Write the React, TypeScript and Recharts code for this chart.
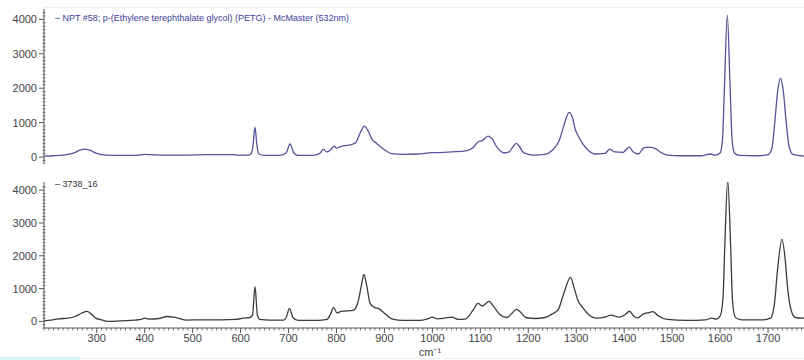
import { LineChart, Line, XAxis, YAxis } from 'recharts';

// PETG reference spectrum (top panel)
const refWavenumber = [
  190, 210, 230, 250, 265, 275, 285, 300, 320, 350, 380, 400, 410, 430, 480, 530, 580, 600, 615,
  622, 626, 630, 634, 638, 650, 680, 695, 703, 711, 720, 750, 765, 773, 780, 787, 795, 800, 810,
  830, 840, 850, 858, 866, 875, 882, 892, 905, 915, 940, 970, 1000, 1015, 1040, 1070, 1085, 1095,
  1104, 1116, 1125, 1135, 1150, 1160, 1168, 1175, 1182, 1190, 1210, 1235, 1250, 1265, 1275, 1285,
  1292, 1298, 1304, 1312, 1325, 1340, 1360, 1370, 1380, 1398, 1404, 1411, 1418, 1430, 1440, 1450,
  1463, 1475, 1490, 1520, 1560, 1580, 1590, 1600, 1605, 1609, 1615, 1621, 1625, 1630, 1640, 1680,
  1700, 1708, 1714, 1720, 1726, 1732, 1738, 1744, 1752, 1775,
];
const refIntensity = [
  30, 40, 60, 110, 200, 230, 200, 110, 60, 50, 50, 80, 70, 60, 60, 70, 70, 60, 60,
  100, 350, 870, 350, 90, 50, 50, 120, 380, 120, 50, 50, 110, 230, 150, 200, 320, 260, 310,
  360, 420, 720, 900, 760, 500, 420, 300, 170, 100, 80, 90, 130, 130, 150, 180, 280, 440,
  480, 610, 520, 280, 120, 150, 300, 400, 300, 130, 60, 80, 200, 500, 950, 1300,
  1150, 800, 620, 420, 200, 90, 110, 230, 150, 140, 220, 290, 160, 90, 260, 290,
  260, 150, 60, 40, 40, 90, 60, 120, 500, 2000, 4120, 2000, 500, 120, 50, 40,
  70, 250, 1000, 1900, 2290, 1900, 1000, 300, 80, 30,
];

// Sample 3738_16 (bottom panel)
const sampleWavenumber = [
  190, 205, 220, 240, 255, 268, 280, 288, 298, 312, 325, 350, 380, 392, 400, 410, 430, 446, 460,
  475, 485, 520, 560, 590, 605, 620, 625, 630, 635, 640, 660, 690, 695, 702, 709, 720, 760, 780,
  787, 794, 801, 810, 835, 845, 852, 857, 863, 870, 880, 888, 900, 915, 940, 975, 990, 1000, 1010,
  1025, 1040, 1055, 1070, 1085, 1095, 1104, 1118, 1128, 1140, 1155, 1166, 1175, 1184, 1195, 1215,
  1235, 1250, 1262, 1275, 1288, 1296, 1304, 1312, 1325, 1342, 1360, 1372, 1390, 1402, 1411, 1420,
  1428, 1440, 1452, 1460, 1470, 1490, 1530, 1570, 1582, 1592, 1600, 1606, 1610, 1616, 1622, 1626,
  1632, 1645, 1690, 1705, 1713, 1720, 1729, 1735, 1741, 1748, 1757, 1775,
];
const sampleIntensity = [
  20, 40, 80, 100, 150, 250, 305, 230, 100, 40, 0, 20, 40, 60, 100, 70, 90, 150, 130,
  80, 40, 50, 50, 60, 100, 120, 200, 1070, 200, 60, 40, 40, 120, 400, 120, 30, 30, 60,
  200, 430, 260, 310, 340, 600, 1100, 1430, 1100, 550, 420, 390, 250, 80, 30, 30, 80, 130, 80,
  100, 130, 60, 80, 350, 550, 470, 610, 450, 220, 120, 250, 370, 280, 120, 90,
  120, 230, 350, 900, 1340, 1000, 620, 450, 220, 100, 130, 190, 130, 210, 310, 160,
  110, 230, 270, 300, 180, 60, 30, 50, 100, 70, 160, 700, 2400, 4300, 2300, 600,
  120, 50, 50, 100, 500, 1600, 2500, 2000, 1000, 350, 120, 100,
];

const xMajor = [300, 400, 500, 600, 700, 800, 900, 1000, 1100, 1200, 1300, 1400, 1500, 1600, 1700];
const xTicks = Array.from({ length: 159 }, (_, i) => 190 + i * 10);
const yMajor = [0, 1000, 2000, 3000, 4000];
const yTicksTop = Array.from({ length: 45 }, (_, i) => -200 + i * 100);
const yTicksBottom = Array.from({ length: 44 }, (_, i) => -200 + i * 100);

const refData = refWavenumber.map((wn, i) => ({ wn, v: refIntensity[i] }));
const sampleData = sampleWavenumber.map((wn, i) => ({ wn, v: sampleIntensity[i] }));

const FONT = '"Liberation Sans", Arial, sans-serif';
const AXIS = '#555';
const TEXT = '#444';
const REF_LINE = '#54549a';
const SAMPLE_LINE = '#3c3c3c';

function YTick(props: any) {
  const { x, y, payload } = props;
  const major = yMajor.includes(payload.value);
  if (major) {
    return (
      <g>
        <line x1={x - 5} x2={x} y1={y} y2={y} stroke={AXIS} />
        <text x={x - 7} y={y} dy={4} textAnchor="end" fontSize={11} fill={TEXT} fontFamily={FONT}>
          {payload.value}
        </text>
      </g>
    );
  }
  return <line x1={x - 1.5} x2={x + 1.5} y1={y} y2={y} stroke={AXIS} strokeWidth={0.8} />;
}

function XTick(props: any) {
  const { x, y, payload } = props;
  const major = xMajor.includes(payload.value);
  if (major) {
    return (
      <g>
        <line x1={x} x2={x} y1={y} y2={y + 5} stroke={AXIS} />
        <text x={x} y={y + 14} textAnchor="middle" fontSize={11} fill={TEXT} fontFamily={FONT}>
          {payload.value}
        </text>
      </g>
    );
  }
  return <line x1={x} x2={x} y1={y} y2={y + 2.5} stroke={AXIS} strokeWidth={0.8} />;
}

export default function App() {
  return (
    <div
      style={{
        position: 'absolute',
        left: 0,
        top: 0,
        width: 804,
        height: 360,
        background: '#fff',
        overflow: 'hidden',
        fontFamily: FONT,
      }}
    >
      <div style={{ position: 'absolute', left: 44, top: 7, width: 760, height: 1, background: '#ececec' }} />

      <div style={{ position: 'absolute', left: 0, top: 0 }}>
        <LineChart width={804} height={164} data={refData} margin={{ top: 9, right: 0, left: 0, bottom: 0 }}>
          <XAxis dataKey="wn" type="number" domain={[190, 1775]} hide allowDataOverflow />
          <YAxis
            width={44}
            domain={[-200, 4300]}
            ticks={yTicksTop}
            interval={0}
            tickSize={0}
            tickMargin={0}
            tickLine={false}
            tick={<YTick />}
            axisLine={{ stroke: AXIS }}
            allowDataOverflow
          />
          <Line
            type="monotone"
            dataKey="v"
            stroke={REF_LINE}
            strokeWidth={1.3}
            dot={false}
            isAnimationActive={false}
          />
        </LineChart>
      </div>

      <div style={{ position: 'absolute', left: 0, top: 170 }}>
        <LineChart width={804} height={190} data={sampleData} margin={{ top: 12, right: 0, left: 0, bottom: 0 }}>
          <XAxis
            dataKey="wn"
            type="number"
            domain={[190, 1775]}
            ticks={xTicks}
            interval={0}
            height={32}
            tickSize={0}
            tickMargin={0}
            tickLine={false}
            tick={<XTick />}
            axisLine={{ stroke: AXIS }}
            allowDataOverflow
            label={{ value: 'cm⁻¹', position: 'insideBottom', offset: 4, dx: 6, fontSize: 11, fill: TEXT, fontFamily: FONT }}
          />
          <YAxis
            width={44}
            domain={[-200, 4250]}
            ticks={yTicksBottom}
            interval={0}
            tickSize={0}
            tickMargin={0}
            tickLine={false}
            tick={<YTick />}
            axisLine={{ stroke: AXIS }}
            allowDataOverflow
          />
          <Line
            type="monotone"
            dataKey="v"
            stroke={SAMPLE_LINE}
            strokeWidth={1.3}
            dot={false}
            isAnimationActive={false}
          />
        </LineChart>
      </div>

      <div style={{ position: 'absolute', left: 55, top: 13, fontSize: 9, color: '#3d3d99', whiteSpace: 'nowrap' }}>
        – NPT #58; p-(Ethylene terephthalate glycol) (PETG) - McMaster (532nm)
      </div>
      <div style={{ position: 'absolute', left: 55, top: 179, fontSize: 9, color: '#333', whiteSpace: 'nowrap' }}>
        – 3738_16
      </div>

      <div style={{ position: 'absolute', left: 0, top: 358, width: 804, height: 1, background: '#ececec' }} />
      <div style={{ position: 'absolute', left: 0, top: 357, width: 80, height: 3, background: '#d7f3f5' }} />
    </div>
  );
}
